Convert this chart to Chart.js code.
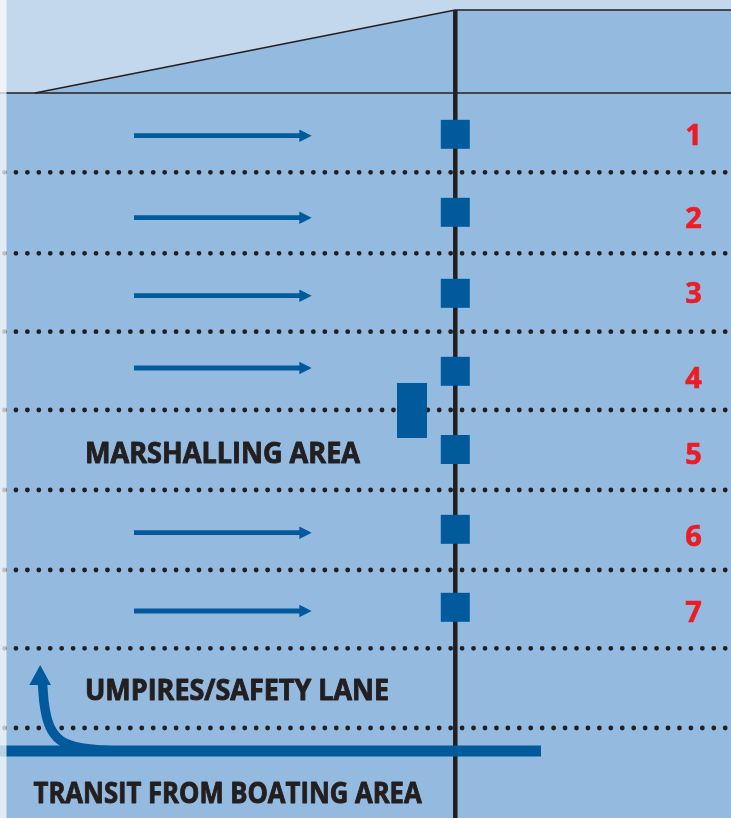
<!DOCTYPE html>
<html>
<head>
<meta charset="utf-8">
<script src="https://cdn.jsdelivr.net/npm/chart.js@4/dist/chart.umd.min.js"></script>
<style>
  html, body { margin: 0; padding: 0; background: #94bbdf; overflow: hidden; }
  canvas { display: block; }
</style>
</head>
<body>
<canvas id="c" width="731" height="818"></canvas>
<script>
// ---- data (diagram values, in diagram units: x across, y down) ----
const laneNumbers     = ['1', '2', '3', '4', '5', '6', '7'];
const laneNumberY     = [145, 228, 303.3, 387.7, 464, 545.7, 621.7];   // baseline of each lane number
const stakeBoatY      = [134.3, 212.3, 293.3, 371.3, 449.5, 529.3, 607.3]; // centres of the blue squares
const arrowLaneY      = [135.7, 217.7, 295.7, 368, 532.7, 611];         // lanes with a direction arrow
const laneDividerY    = [172.3, 253.3, 331.7, 410, 490, 570, 648.3, 728];
const areaLabels      = ['MARSHALLING AREA', 'UMPIRES/SAFETY LANE', 'TRANSIT FROM BOATING AREA'];
const areaLabelX      = [85, 85, 33.6];
const areaLabelY      = [462.7, 700, 803];
const areaLabelWidth  = [275, 304, 388];
const startLineX      = 455.3;
const arrowStartX     = 134;
const arrowEndX       = 311.7;
const curveArrowPath  = [[42.5, 684], [44.7, 707], [50, 727], [60, 740], [75, 746.5], [95, 749.5], [110, 750.5]];
const transitBar      = [[0, 751], [541, 751]];
const shoreTop        = [[35, 93], [455.3, 10], [731, 10]];
const waterEdgeY      = 93;
const marshalBox      = [397, 383, 427, 438]; // x1, y1, x2, y2

// ---- colours ----
const NAVY = '#005a9c', INK = '#231f20', RED = '#ed1c24', LIGHT = '#c3d8ec';

const pts = a => a.map(p => ({x: p[0], y: p[1]}));
const datasets = [];

function poly(points, color, order) {
  datasets.push({ data: pts(points), showLine: true, fill: 'shape', backgroundColor: color,
    borderWidth: 0, borderColor: 'rgba(0,0,0,0)', pointRadius: 0, order: order, tension: 0, clip: false });
}
function line(points, color, width, order, extra) {
  datasets.push(Object.assign({ data: pts(points), showLine: true, fill: false, borderColor: color,
    borderWidth: width, pointRadius: 0, order: order, tension: 0, clip: false }, extra || {}));
}

// light sky / shore area
poly([[0, 0], [731, 0], [731, shoreTop[2][1]], shoreTop[1], shoreTop[0], [0, waterEdgeY]], LIGHT, 100);
// outlines
line(shoreTop, INK, 1.5, 90);
line([[0, waterEdgeY], [731, waterEdgeY]], INK, 1.5, 90);
// lane dividers (dotted)
laneDividerY.forEach(y => line([[4.5, y], [740, y]], INK, 4.8, 80,
  { borderDash: [0, 11.44], borderCapStyle: 'round' }));
// start line
line([[startLineX, shoreTop[1][1]], [startLineX, 818]], INK, 4.5, 70);
// direction arrows
arrowLaneY.forEach(y => {
  line([[arrowStartX, y], [arrowEndX - 11, y]], NAVY, 4.8, 60);
  poly([[arrowEndX - 12.4, y - 6.2], [arrowEndX, y], [arrowEndX - 12.4, y + 6.2]], NAVY, 60);
});
// marshalling box
poly([[marshalBox[0], marshalBox[1]], [marshalBox[2], marshalBox[1]], [marshalBox[2], marshalBox[3]], [marshalBox[0], marshalBox[3]]], NAVY, 50);
// transit bar and curved arrow
line(transitBar, NAVY, 11, 55, { borderCapStyle: 'butt' });
line(curveArrowPath, NAVY, 9.5, 55, { tension: 0.4, borderCapStyle: 'butt' });
poly([[29.3, 685], [40.2, 665], [51, 685]], NAVY, 55);
// stake boats (squares)
datasets.push({ data: stakeBoatY.map(y => ({x: startLineX, y: y})), showLine: false, pointStyle: 'rect',
  pointRadius: 29 / Math.SQRT2, pointHoverRadius: 29 / Math.SQRT2, pointBorderWidth: 0,
  backgroundColor: NAVY, borderColor: NAVY, order: 40, clip: false });
// pale strip on left edge
poly([[0, 0], [6.5, 0], [6.5, 818], [0, 818]], 'rgba(255,255,255,0.72)', 1);

const textPlugin = {
  id: 'diagramText',
  afterDatasetsDraw(chart) {
    const ctx = chart.ctx, xs = chart.scales.x, ys = chart.scales.y;
    ctx.save();
    ctx.textBaseline = 'alphabetic';
    ctx.lineJoin = 'round';
    ctx.font = 'bold 29px "Open Sans"';
    ctx.fillStyle = RED;
    ctx.strokeStyle = RED;
    ctx.lineWidth = 0.6;
    ctx.textAlign = 'center';
    laneNumbers.forEach((t, i) => {
      const x = xs.getPixelForValue(693.5), y = ys.getPixelForValue(laneNumberY[i]);
      ctx.fillText(t, x, y);
      ctx.strokeText(t, x, y);
    });
    ctx.fillStyle = INK;
    ctx.strokeStyle = INK;
    ctx.lineWidth = 0.9;
    ctx.textAlign = 'left';
    ctx.font = 'bold 28px "Open Sans"';
    areaLabels.forEach((t, i) => {
      const x = xs.getPixelForValue(areaLabelX[i]);
      const w = xs.getPixelForValue(areaLabelX[i] + areaLabelWidth[i]) - x;
      const y = ys.getPixelForValue(areaLabelY[i]);
      ctx.fillText(t, x, y, w);
      ctx.strokeText(t, x, y, w);
    });
    ctx.restore();
  }
};

new Chart(document.getElementById('c'), {
  type: 'scatter',
  data: { datasets: datasets },
  options: {
    responsive: false,
    animation: false,
    events: [],
    layout: { padding: 0, autoPadding: false },
    plugins: { legend: { display: false }, tooltip: { enabled: false }, filler: { propagate: false } },
    scales: {
      x: { type: 'linear', min: 0, max: 731, display: false, grace: 0 },
      y: { type: 'linear', min: 0, max: 818, reverse: true, display: false, grace: 0 }
    }
  },
  plugins: [textPlugin]
});
</script>
</body>
</html>
